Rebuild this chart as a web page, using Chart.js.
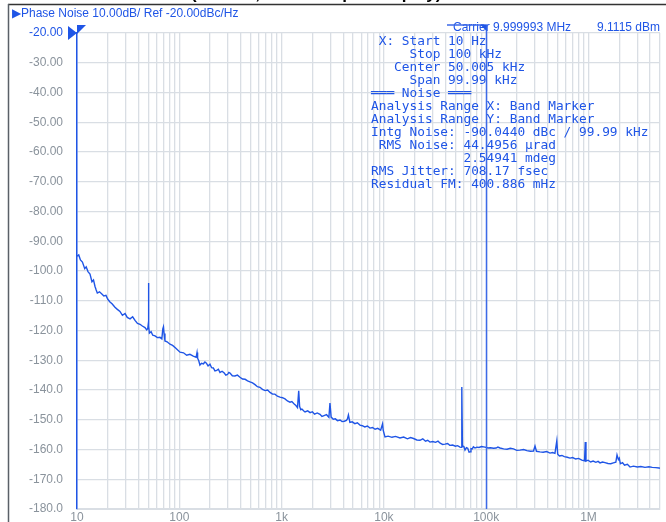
<!DOCTYPE html>
<html>
<head>
<meta charset="utf-8">
<script src="https://cdn.jsdelivr.net/npm/chart.js@4.4.1/dist/chart.umd.min.js"></script>
<style>
body { margin:0; background:#fff; }
#wrap { width:666px; height:522px; position:relative; }
</style>
</head>
<body>
<div id="wrap"><canvas id="myChart" width="666" height="522"></canvas></div>
<script>
// offset frequency (Hz) and phase noise (dBc/Hz)
var freqs = [
    10,10.4,10.8,11.3,11.9,12.3,12.8,13.4,14,14.5,15,15.4,15.8,16.6,17.6,18.3,19.2,20,21,22,
    23.5,24.8,26.3,27.8,29.5,31,33,35,36.9,39,41.3,43.5,46.2,48,49.2,49.7,50,50.3,51,53,
    55,57.9,61,64.7,67.5,69,70,71,72.4,76,81.1,86,92,101.6,110,118,127,137,146,149,
    151,155,159,165,172,178,184,191,199.5,207,215,223,232,241,250,262,275,285,296,305,
    313,330,350,370,392,415,440,465,491,520,550,580,615,650,690,730,771,815,860,910,
    964,1020,1080,1140,1208,1260,1320,1380,1430,1470,1500,1540,1580,1640,1694,1800,1900,2000,2100,2230,
    2374,2480,2600,2750,2900,2970,3050,3200,3350,3520,3724,3900,4100,4300,4400,4500,4650,4900,5200,5500,
    5838,6150,6500,6900,7313,7750,8200,8700,9300,9700,9850,10250,11000,12000,13000,14370,15600,17000,18200,19500,
    21000,22520,24000,25500,26800,28220,30000,32000,33800,35500,37500,39560,42000,44000,47000,50000,52500,55450,57000,57500,
    58000,58600,60500,62050,64000,66000,68000,69500,71000,73000,75000,77800,81000,85000,90000,97300,104000,110000,118000,125000,
    130000,136400,148000,160000,172000,185000,199000,213900,232000,250000,270000,290000,300000,310000,335000,360000,390000,420600,445000,470000,
    490000,500000,520000,550000,580000,620000,659600,700000,750000,800000,860000,915000,930000,945000,990000,1050000,1110000,1180000,1240000,1296000,
    1370000,1450000,1550000,1650000,1750000,1850000,1900000,1960000,2000000,2050000,2150000,2250000,2400000,2546000,2750000,3000000,3250000,3567000,3900000,4200000,
    4550000,4890000,5000000];
var noise = [
    -95.0,-94.6,-96.3,-97.0,-99.2,-98.6,-100.2,-101.0,-103.6,-103.0,-105.2,-106.4,-107.4,-107.0,-107.8,-108.4,-108.2,-109.5,-110.4,-111.0,
    -112.2,-112.9,-113.6,-114.9,-114.3,-115.6,-116.1,-115.4,-116.6,-117.6,-117.9,-118.5,-119.0,-119.8,-119.3,-118.0,-104.0,-118.5,-120.9,-120.4,
    -121.6,-121.8,-122.4,-122.3,-122.8,-119.5,-118.8,-121.0,-123.5,-123.8,-124.6,-125.0,-125.9,-127.3,-127.5,-128.3,-128.0,-128.6,-129.0,-127.4,
    -129.3,-130.2,-131.6,-131.0,-131.2,-130.6,-131.0,-131.9,-131.3,-132.5,-132.6,-133.6,-133.4,-133.0,-134.1,-133.7,-134.3,-135.0,-134.8,-134.1,
    -134.3,-135.2,-135.3,-135.0,-135.7,-136.3,-136.4,-136.9,-137.3,-137.6,-138.2,-138.9,-139.1,-139.8,-140.2,-140.0,-140.8,-141.4,-141.4,-142.1,
    -142.4,-142.6,-143.0,-143.7,-144.1,-143.9,-144.6,-145.2,-145.9,-140.3,-145.5,-146.6,-146.4,-147.0,-147.4,-147.0,-147.6,-147.3,-148.1,-147.7,
    -148.2,-148.9,-148.6,-148.3,-149.2,-144.4,-149.1,-149.8,-149.7,-150.3,-150.1,-150.6,-150.5,-150.2,-149.7,-148.4,-150.9,-150.7,-151.3,-151.0,
    -151.8,-152.0,-152.4,-152.1,-152.8,-152.6,-153.2,-152.9,-153.5,-151.4,-153.6,-155.8,-155.5,-155.9,-155.6,-156.1,-155.8,-156.4,-156.0,-156.3,
    -156.8,-156.9,-156.4,-157.2,-156.9,-157.5,-157.3,-157.6,-157.2,-157.9,-158.3,-158.2,-158.0,-158.6,-158.5,-158.9,-158.7,-159.2,-159.3,-149.4,
    -139.0,-158.8,-159.0,-160.2,-159.4,-159.6,-160.9,-160.8,-159.7,-159.8,-159.1,-159.5,-159.2,-159.3,-159.0,-159.2,-159.5,-159.4,-159.6,-159.5,
    -159.2,-159.5,-159.8,-159.9,-159.6,-159.8,-160.3,-160.2,-160.0,-160.4,-160.6,-160.5,-158.8,-160.6,-160.8,-160.9,-160.7,-161.2,-161.0,-161.3,
    -157.1,-161.6,-162.2,-162.0,-162.4,-162.6,-162.9,-162.7,-163.2,-163.0,-163.6,-163.8,-157.5,-163.9,-163.6,-164.2,-163.9,-164.3,-164.0,-164.5,
    -164.2,-164.4,-164.7,-164.8,-164.5,-164.3,-161.8,-163.4,-162.9,-164.8,-164.4,-165.3,-165.0,-165.9,-165.6,-165.9,-165.7,-166.0,-165.8,-166.0,
    -166.1,-166.2,-166.3];

var xDecades = [10, 100, 1000, 10000, 100000, 1000000];
var xLabels = ['10', '100', '1k', '10k', '100k', '1M'];
var xMin = 10, xMax = 5000000;
var yMin = -180, yMax = -20;

var infoLines = [
    ' X: Start 10 Hz',
    '     Stop 100 kHz',
    '   Center 50.005 kHz',
    '     Span 99.99 kHz',
    '\u2550\u2550\u2550 Noise \u2550\u2550\u2550',
    'Analysis Range X: Band Marker',
    'Analysis Range Y: Band Marker',
    'Intg Noise: -90.0440 dBc / 99.99 kHz',
    ' RMS Noise: 44.4956 \u00b5rad',
    '            2.54941 mdeg',
    'RMS Jitter: 708.17 fsec',
    'Residual FM: 400.886 mHz'
];
var headerText = '\u25b6Phase Noise 10.00dB/ Ref -20.00dBc/Hz';
var carrierText = 'Carrier 9.999993 MHz';
var powerText = '9.1115 dBm';
var bandMarker = 100000;

var blue = '#1f55e6';
var gridCol = '#d9dee4';
var tickCol = '#8a939c';

var points = [];
for (var i = 0; i < freqs.length; i++)
{
    points.push({x: freqs[i], y: noise[i]});
}

var decorations = {
    id: 'decorations',
    afterDraw: function(chart)
    {
        var ctx = chart.ctx;
        var area = chart.chartArea;
        var xs = chart.scales.x, ys = chart.scales.y;
        ctx.save();

        // frame and clipped title
        ctx.fillStyle = '#000';
        ctx.font = 'bold 17px "Liberation Sans", Arial, sans-serif';
        ctx.textBaseline = 'alphabetic';
        ctx.textAlign = 'left';
        ctx.fillText('(10 MHz, 100 kHz span display)', 191, -1);
        ctx.strokeStyle = '#333';
        ctx.lineWidth = 1.5;
        ctx.beginPath();
        ctx.moveTo(8, 4.5); ctx.lineTo(666, 4.5);
        ctx.stroke();
        ctx.strokeStyle = '#5a6068';
        ctx.beginPath();
        ctx.moveTo(8.5, 4); ctx.lineTo(8.5, 522);
        ctx.stroke();

        // header
        ctx.fillStyle = blue;
        ctx.font = '12px "Liberation Sans", Arial, sans-serif';
        ctx.textBaseline = 'middle';
        ctx.fillText(headerText, 12, 14);
        ctx.fillText(carrierText, 453, 28);
        ctx.textAlign = 'right';
        ctx.fillText(powerText, area.right, 28);

        // band marker
        var bx = Math.round(xs.getPixelForValue(bandMarker)) + 0.5;
        ctx.strokeStyle = '#3c6ae8';
        ctx.lineWidth = 1.5;
        ctx.beginPath();
        ctx.moveTo(bx, 25); ctx.lineTo(bx, area.bottom);
        ctx.moveTo(447, 25); ctx.lineTo(bx, 25);
        ctx.stroke();
        ctx.fillStyle = blue;
        ctx.beginPath();
        ctx.moveTo(bx - 6, 25); ctx.lineTo(bx, 25); ctx.lineTo(bx, 31);
        ctx.closePath();
        ctx.fill();

        // reference level marker
        var ry = ys.getPixelForValue(yMax);
        ctx.beginPath();
        ctx.moveTo(area.left - 9, ry - 7);
        ctx.lineTo(area.left, ry);
        ctx.lineTo(area.left - 9, ry + 7);
        ctx.closePath();
        ctx.fill();
        ctx.beginPath();
        ctx.moveTo(area.left, ry - 8);
        ctx.lineTo(area.left + 9, ry - 8);
        ctx.lineTo(area.left, ry + 1);
        ctx.closePath();
        ctx.fill();

        // info block
        ctx.font = '12.8px "DejaVu Sans Mono", monospace';
        ctx.textAlign = 'left';
        for (var i = 0; i < infoLines.length; i++)
        {
            ctx.fillText(infoLines[i], 371, 42 + i * 13);
        }
        ctx.restore();
    }
};

var canvas = document.getElementById('myChart');
var myChart = new Chart(canvas.getContext('2d'),
{
    type: 'line',
    data:
    {
        datasets:
        [{
            data: points,
            borderColor: blue,
            borderWidth: 1.4,
            pointRadius: 0,
            tension: 0,
            fill: false
        }]
    },
    options:
    {
        responsive: false,
        animation: false,
        devicePixelRatio: 1,
        layout: {padding: {left: 0, top: 33, right: 6, bottom: 0}},
        plugins: {legend: {display: false}, tooltip: {enabled: false}, title: {display: false}},
        scales:
        {
            x:
            {
                type: 'logarithmic',
                min: xMin,
                max: xMax,
                afterBuildTicks: function(scale)
                {
                    var t = [];
                    for (var d = 0; d < xDecades.length; d++)
                    {
                        for (var k = 1; k <= 9; k++)
                        {
                            var v = xDecades[d] * k;
                            if (v <= xMax) t.push({value: v});
                        }
                    }
                    scale.ticks = t;
                },
                afterFit: function(scale)
                {
                    scale.height = 13;
                    scale.paddingLeft = 0;
                    scale.paddingRight = 0;
                },
                grid: {color: gridCol, drawTicks: false, lineWidth: 1.3},
                border: {color: gridCol},
                ticks:
                {
                    autoSkip: false,
                    maxRotation: 0,
                    padding: 1,
                    color: tickCol,
                    font: {family: '"Liberation Sans", Arial, sans-serif', size: 12},
                    callback: function(value)
                    {
                        var idx = xDecades.indexOf(value);
                        return idx >= 0 ? xLabels[idx] : '';
                    }
                }
            },
            y:
            {
                min: yMin,
                max: yMax,
                afterFit: function(scale)
                {
                    scale.width = 77;
                    scale.paddingTop = 0;
                    scale.paddingBottom = 0;
                },
                grid: {color: gridCol, drawTicks: false, lineWidth: 1.3},
                border: {color: blue, width: 1.5},
                ticks:
                {
                    stepSize: 10,
                    padding: 14,
                    color: function(c) { return c.tick.value === yMax ? blue : tickCol; },
                    font: {family: '"Liberation Sans", Arial, sans-serif', size: 12},
                    callback: function(value)
                    {
                        return value > -100 ? value.toFixed(2) : value.toFixed(1);
                    }
                }
            }
        }
    },
    plugins: [decorations]
});
</script>
</body>
</html>
